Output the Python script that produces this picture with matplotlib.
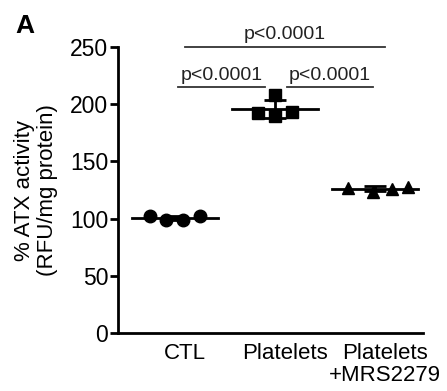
import matplotlib
matplotlib.use('Agg')
from matplotlib import pyplot as plt
import numpy as np

plt.rcParams['font.family'] = ['Liberation Sans', 'DejaVu Sans']

groups = ['CTL', 'Platelets', 'Platelets\n+MRS2279']
ctl = [102, 99, 99, 102]
platelets = [192, 208, 190, 193]
platelets_mrs = [127, 123, 126, 128]
markers = ['o', 's', '^']
# horizontal jitter of the replicate points, as drawn
jitter = [[-0.25, -0.09, 0.08, 0.25],
          [-0.17, 0.0, 0.0, 0.17],
          [-0.27, -0.02, 0.17, 0.33]]
# (from, to, height) of the significance bars
comparisons = [(0.1, 2.1, 250), (0.03, 0.9, 215), (1.12, 1.98, 215)]
p_labels = ['p<0.0001', 'p<0.0001', 'p<0.0001']

fig = plt.figure(figsize=(4.47, 3.91), dpi=100)
ax = fig.add_axes([0.264, 0.148, 0.682, 0.732])

for i, vals in enumerate([ctl, platelets, platelets_mrs]):
    xs = i + np.array(jitter[i])
    ax.plot(xs, vals, linestyle='none', marker=markers[i], color='black',
            markersize=9, clip_on=False, zorder=3)
    mean = np.mean(vals)
    sd = np.std(vals, ddof=1)
    ax.plot([i - 0.43, i + 0.43], [mean, mean], color='black', lw=2, zorder=2)
    ax.errorbar(i, mean, yerr=sd, color='black', capsize=8, elinewidth=2,
                capthick=2, zorder=2)

for (a, b, y), lab in zip(comparisons, p_labels):
    ax.plot([a, b], [y, y], color='#333333', lw=1.3, clip_on=False)
    ax.text((a + b) / 2, y + 3, lab, ha='center', va='bottom', fontsize=14,
            color='#222222')

ax.set_xlim(-0.57, 2.48)
ax.set_ylim(0, 250)
ax.set_yticks([0, 50, 100, 150, 200, 250])
ax.set_xticks([x + 0.1 for x in range(len(groups))])
ax.set_xticklabels(groups, fontsize=16, linespacing=1.05)
ax.tick_params(axis='y', labelsize=16.5, width=2, length=6, pad=1)
ax.tick_params(axis='x', length=0, pad=7)
ax.spines['top'].set_visible(False)
ax.spines['right'].set_visible(False)
ax.spines['left'].set_linewidth(2)
ax.spines['bottom'].set_linewidth(2)
ax.set_ylabel('% ATX activity\n(RFU/mg protein)', fontsize=16, labelpad=9,
              linespacing=1.1)

fig.text(0.035, 0.965, 'A', fontsize=19, fontweight='bold', va='top')

fig.savefig('out.png', dpi=100)
